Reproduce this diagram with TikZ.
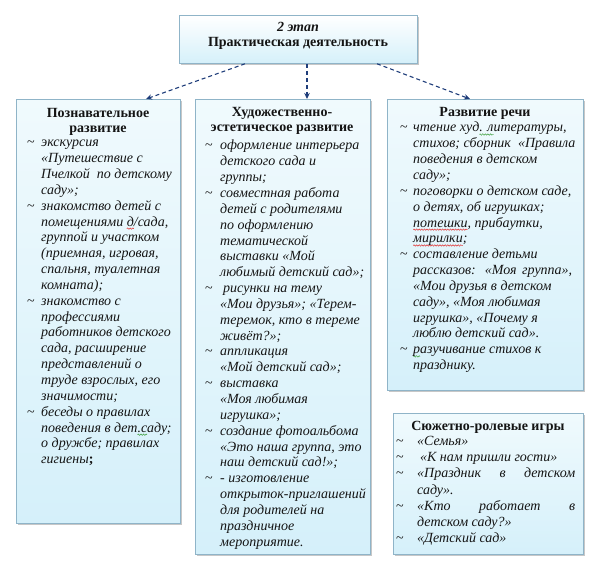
\documentclass[tikz,border=0pt]{standalone}
\usepackage{fontspec}
\setmainfont{Liberation Serif}
\usetikzlibrary{shadows,arrows.meta,decorations.pathmorphing}
\definecolor{bord}{HTML}{8FB4C8}
\definecolor{filltop}{HTML}{F0FAFD}
\definecolor{fillbot}{HTML}{D5F0FA}
\definecolor{arr}{HTML}{1F3D7A}
\definecolor{txt}{HTML}{141414}
\definecolor{spred}{HTML}{E03030}
\definecolor{spgreen}{HTML}{3FA03F}
\newcommand\itm[1][14pt]{\llap{\makebox[#1][l]{\upshape\textasciitilde}}}
\newcommand\jl[2]{\makebox[#1][s]{#2}}
\newsavebox\wavbox
\newcommand\wavul[2]{\sbox\wavbox{#2}\rlap{\begin{tikzpicture}[overlay,x=1pt,y=1pt]\draw[draw=#1, line width=0.5pt, decorate, decoration={snake, amplitude=0.7pt, segment length=2.6pt}] (0,-2.6) -- (\the\wd\wavbox,-2.6);\end{tikzpicture}}\usebox\wavbox}
\newcommand\rwav[1]{\wavul{spred}{#1}}
\newcommand\gwav[1]{\wavul{spgreen}{#1}}
\tikzset{
  box/.style={draw=bord, line width=0.8pt, top color=filltop, bottom color=fillbot,
    inner sep=0pt, anchor=north west,
    drop shadow={shadow xshift=2pt, shadow yshift=-2pt, fill=gray!80, opacity=0.55}},
  ttl/.style={font=\fontsize{14}{15.5}\selectfont\bfseries, text=txt, align=center, inner sep=0pt, anchor=north},
  itext/.style={font=\fontsize{14}{15.85}\selectfont\itshape, text=txt, align=left, inner sep=0pt, anchor=north west},
  con/.style={draw=arr, line width=1.1pt, dashed, dash pattern=on 4pt off 3pt, -{Stealth[length=6pt,width=5.5pt]}}
}
\begin{document}
\begin{tikzpicture}[x=1pt,y=-1pt]
\useasboundingbox (0,0) rectangle (600,569);
% boxes
\node[box, top color=white, bottom color=fillbot, minimum width=238pt, minimum height=48pt] (T) at (179,15) {};
\node[box, minimum width=164pt, minimum height=424pt] (L) at (16,99) {};
\node[box, minimum width=175pt, minimum height=455pt] (M) at (195,99) {};
\node[box, minimum width=196pt, minimum height=291pt] (R) at (387,99) {};
\node[box, minimum width=190pt, minimum height=141pt] (G) at (393,413) {};
% top text
\node[ttl] (Tt) at (298,22) {\itshape 2 этап\\Практическая деятельность};
% connectors
\draw[con] ([xshift=66pt]T.south west) -- ([xshift=130pt]L.north west);
\draw[con] ([xshift=128pt]T.south west) -- ([xshift=112pt]M.north west);
\draw[con] ([xshift=198pt]T.south west) -- ([xshift=83pt]R.north west);
% left
\node[ttl] (Lt) at (98,108) {Познавательное\\развитие};
\node[itext] (Li) at (41,140) {%
\itm экскурсия\\
«Путешествие с\\
Пчелкой\ \ по детскому\\
саду»;\\
\itm знакомство детей с\\
помещениями \rwav{д}/сада,\\
группой и участком\\
(приемная, игровая,\\
спальня, туалетная\\
комната);\\
\itm знакомство с\\
профессиями\\
работников детского\\
сада, расширение\\
представлений о\\
труде взрослых, его\\
значимости;\\
\itm беседы о правилах\\
поведения в дет\gwav{.с}аду;\\
о дружбе; правилах\\
гигиены{\upshape\bfseries;}};
% middle
\node[ttl] (Mt) at (282,107) {Художественно-\\эстетическое развитие};
\node[itext] (Mi) at (220,140) {%
\itm[15pt]оформление интерьера\\
детского сада и\\
группы;\\
\itm[15pt]совместная работа\\
детей с родителями\\
по оформлению\\
тематической\\
выставки «Мой\\
любимый детский сад»;\\
\itm[15pt]\hspace*{3pt}рисунки на тему\\
«Мои друзья»; «Терем-\\
теремок, кто в тереме\\
живёт?»;\\
\itm[15pt]аппликация\\
«Мой детский сад»;\\
\itm[15pt]выставка\\
«Моя любимая\\
игрушка»;\\
\itm[15pt]создание фотоальбома\\
«Это наша группа, это\\
наш детский сад!»;\\
\itm[15pt]- изготовление\\
открыток-приглашений\\
для родителей на\\
праздничное\\
мероприятие.};
% right
\node[ttl] (Rt) at (485,107) {Развитие речи};
\node[itext] (Ri) at (413,122) {%
\itm[13pt]чтение худ\gwav{. л}итературы,\\
стихов; сборник\ \ «Правила\\
поведения в детском\\
саду»;\\
\itm[13pt]поговорки о детском саде,\\
о детях, об игрушках;\\
\rwav{потешки}, прибаутки,\\
\rwav{мирилки};\\
\itm[13pt]составление детьми\\
\jl{159pt}{рассказов: «Моя группа»,}\\
«Мои друзья в детском\\
саду», «Моя любимая\\
игрушка», «Почему я\\
люблю детский сад».\\
\itm[13pt]\gwav{р}азучивание стихов к\\
празднику.};
% games
\node[ttl] (Gt) at (488,421) {Сюжетно-ролевые игры};
\node[itext, font=\fontsize{14}{16.2}\selectfont\itshape] (Gi) at (417,436) {%
\itm[21pt]«Семья»\\
\itm[21pt]\hspace*{3pt}«К нам пришли гости»\\
\itm[21pt]\jl{158pt}{«Праздник в детском}\\
саду».\\
\itm[21pt]\jl{158pt}{«Кто работает в}\\
детском саду?»\\
\itm[21pt]«Детский сад»};
\end{tikzpicture}
\end{document}
